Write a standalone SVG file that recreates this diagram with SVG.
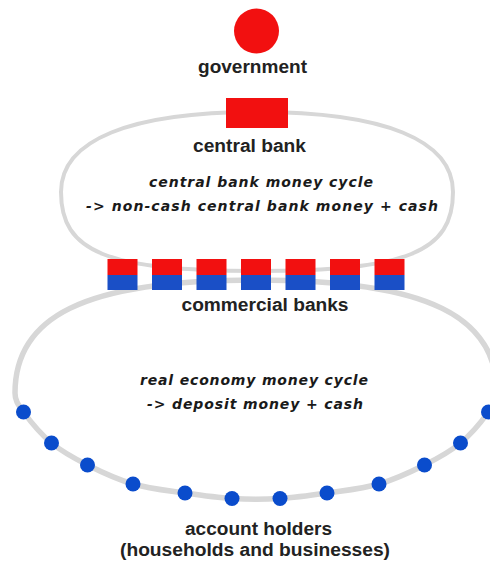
<svg xmlns="http://www.w3.org/2000/svg" width="490" height="563" viewBox="0 0 490 563">
<style>
.cycle{fill:none;stroke:#d7d7d7;stroke-linecap:round}
.lbl{font-family:"Liberation Sans",Arial,sans-serif;font-weight:bold;font-size:18px;fill:#222;text-anchor:middle}
.hand{font-family:"DejaVu Sans",sans-serif;font-style:italic;font-weight:bold;font-size:14px;fill:#1a1a1a;text-anchor:middle}
.red{fill:#f21010}
.blue{fill:#1a4fc6}
.dot{fill:#0a4ccc}
</style>
<rect width="490" height="563" fill="#fff"/>
<g id="connectors">
<path class="cycle" stroke-width="4" d="M 61 192 C 61 140, 130 112, 257 112 C 384 112, 453 140, 453 192 C 453 252, 407 271, 257 271 C 107 271, 61 252, 61 192 Z"/>
<path class="cycle" stroke-width="5.5" d="M 15 393 C 15 318, 81 280, 256 280 C 431 280, 497 318, 497 393 C 497 400, 494.58 403.67, 488.5 412 C 482.42 420.33, 471.17 434.17, 460.5 443 C 449.83 451.83, 438.08 458.17, 424.5 465 C 410.92 471.83, 395.25 479.33, 379 484 C 362.75 488.67, 343.5 490.58, 327 493 C 310.5 495.42, 295.83 497.58, 280 498.5 C 264.17 499.42, 247.83 499.42, 232 498.5 C 216.17 497.58, 201.5 495.42, 185 493 C 168.5 490.58, 149.25 488.67, 133 484 C 116.75 479.33, 101.08 471.83, 87.5 465 C 73.92 458.17, 62.17 451.83, 51.5 443 C 40.83 434.17, 29.58 420.33, 23.5 412 C 17.42 403.67, 15 400, 15 393 Z"/>
</g>
<g id="government">
<circle class="red" cx="256.5" cy="31" r="22.5"/>
<text class="lbl" x="252.5" y="73" textLength="109" lengthAdjust="spacingAndGlyphs">government</text>
</g>
<g id="central-bank">
<rect class="red" x="226" y="98" width="62" height="30"/>
<text class="lbl" x="249.5" y="152" textLength="113" lengthAdjust="spacingAndGlyphs">central bank</text>
</g>
<g id="central-bank-cycle">
<text class="hand" x="261" y="187" textLength="224" lengthAdjust="spacing">central bank money cycle</text>
<text class="hand" x="262" y="211" textLength="352" lengthAdjust="spacing">-&gt; non-cash central bank money + cash</text>
</g>
<g id="commercial-banks">
<rect class="red" x="107.5" y="259" width="30" height="16"/><rect class="blue" x="107.5" y="275" width="30" height="15"/>
<rect class="red" x="152" y="259" width="30" height="16"/><rect class="blue" x="152" y="275" width="30" height="15"/>
<rect class="red" x="196.5" y="259" width="30" height="16"/><rect class="blue" x="196.5" y="275" width="30" height="15"/>
<rect class="red" x="241" y="259" width="30" height="16"/><rect class="blue" x="241" y="275" width="30" height="15"/>
<rect class="red" x="285.5" y="259" width="30" height="16"/><rect class="blue" x="285.5" y="275" width="30" height="15"/>
<rect class="red" x="330" y="259" width="30" height="16"/><rect class="blue" x="330" y="275" width="30" height="15"/>
<rect class="red" x="374.5" y="259" width="30" height="16"/><rect class="blue" x="374.5" y="275" width="30" height="15"/>
<text class="lbl" x="265" y="311" textLength="167" lengthAdjust="spacingAndGlyphs">commercial banks</text>
</g>
<g id="real-economy-cycle">
<text class="hand" x="254" y="385" textLength="228" lengthAdjust="spacing">real economy money cycle</text>
<text class="hand" x="255" y="409" textLength="216" lengthAdjust="spacing">-&gt; deposit money + cash</text>
</g>
<g id="account-holders">
<circle class="dot" cx="23.5" cy="412" r="7.5"/>
<circle class="dot" cx="51.5" cy="443" r="7.5"/>
<circle class="dot" cx="87.5" cy="465" r="7.5"/>
<circle class="dot" cx="133" cy="484" r="7.5"/>
<circle class="dot" cx="185" cy="493" r="7.5"/>
<circle class="dot" cx="232" cy="498.5" r="7.5"/>
<circle class="dot" cx="280" cy="498.5" r="7.5"/>
<circle class="dot" cx="327" cy="493" r="7.5"/>
<circle class="dot" cx="379" cy="484" r="7.5"/>
<circle class="dot" cx="424.5" cy="465" r="7.5"/>
<circle class="dot" cx="460.5" cy="443" r="7.5"/>
<circle class="dot" cx="488.5" cy="412" r="7.5"/>
<text class="lbl" x="258.5" y="535" textLength="147" lengthAdjust="spacingAndGlyphs">account holders</text>
<text class="lbl" x="255" y="556" textLength="270" lengthAdjust="spacingAndGlyphs">(households and businesses)</text>
</g>
</svg>
